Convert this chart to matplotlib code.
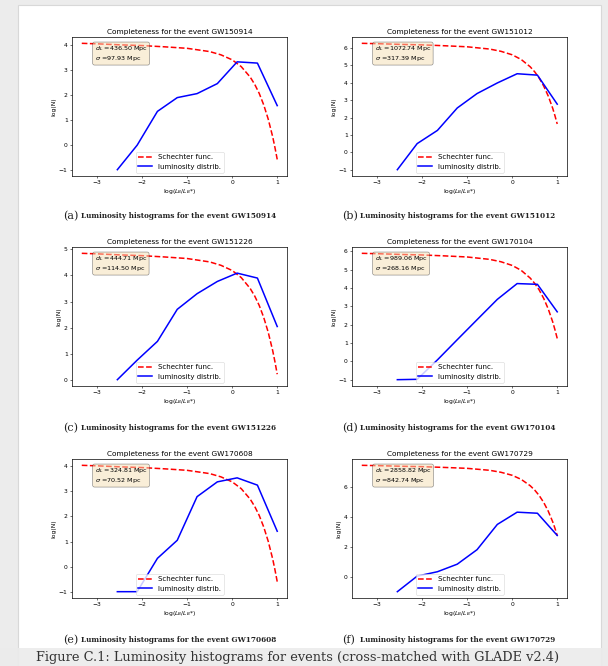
import numpy as np
import matplotlib
matplotlib.use("Agg")
import matplotlib.pyplot as plt

# events and the d_L / sigma shown in each text box
events = ["GW150914", "GW151012", "GW151226", "GW170104", "GW170608", "GW170729"]
letters = ["a", "b", "c", "d", "e", "f"]
dist_L = [436.50, 1072.74, 444.71, 989.06, 324.81, 2858.82]
sigma = [97.93, 317.39, 114.50, 268.16, 70.52, 842.74]

# Schechter function (red dashed)
sch_x = [-3.34, -3.0, -2.5, -2.0, -1.5, -1.0, -0.5, -0.25, 0.0, 0.2, 0.4,
         0.5, 0.6, 0.7, 0.8, 0.9, 0.95, 1.0]
sch_a = [4.05, 4.03, 3.99, 3.96, 3.91, 3.85, 3.72, 3.59, 3.39, 3.12, 2.70,
         2.41, 2.05, 1.59, 1.02, 0.31, -0.12, -0.59]
sch_b = [6.27, 6.25, 6.21, 6.18, 6.13, 6.07, 5.94, 5.81, 5.61, 5.34, 4.92,
         4.63, 4.27, 3.81, 3.24, 2.53, 2.10, 1.63]
sch_c = [4.85, 4.83, 4.79, 4.76, 4.71, 4.65, 4.52, 4.39, 4.19, 3.92, 3.50,
         3.21, 2.85, 2.39, 1.82, 1.11, 0.68, 0.21]
sch_d = [5.89, 5.87, 5.83, 5.80, 5.75, 5.69, 5.56, 5.43, 5.23, 4.96, 4.54,
         4.25, 3.89, 3.43, 2.86, 2.15, 1.72, 1.25]
sch_e = [4.04, 4.02, 3.98, 3.95, 3.90, 3.84, 3.71, 3.58, 3.38, 3.11, 2.69,
         2.40, 2.04, 1.58, 1.01, 0.30, -0.13, -0.60]
sch_f = [7.42, 7.40, 7.36, 7.33, 7.28, 7.22, 7.09, 6.96, 6.76, 6.49, 6.07,
         5.78, 5.42, 4.96, 4.39, 3.68, 3.25, 2.78]

# luminosity distribution (blue)
lum_x = [-2.55, -2.11, -1.66, -1.22, -0.78, -0.33, 0.11, 0.56, 1.00]
lum_a = [-1.0, -0.02, 1.33, 1.88, 2.04, 2.44, 3.31, 3.26, 1.56]
lum_b = [-1.0, 0.50, 1.26, 2.55, 3.38, 3.99, 4.52, 4.44, 2.77]
lum_c = [0.0, 0.75, 1.47, 2.70, 3.30, 3.77, 4.09, 3.90, 2.04]
lum_d = [-1.0, -0.98, 0.08, 1.18, 2.27, 3.38, 4.24, 4.20, 2.70]
lum_e = [-1.0, -1.0, 0.33, 1.05, 2.79, 3.38, 3.54, 3.25, 1.41]
lum_f = [-0.94, 0.09, 0.38, 0.88, 1.84, 3.51, 4.32, 4.25, 2.78]

sch_all = [sch_a, sch_b, sch_c, sch_d, sch_e, sch_f]
lum_all = [lum_a, lum_b, lum_c, lum_d, lum_e, lum_f]

W, H = 608, 666
fig = plt.figure(figsize=(W / 100, H / 100), dpi=100)
fig.patch.set_facecolor("#ececec")

# page background in pixel coords
bg = fig.add_axes([0, 0, 1, 1], zorder=-5)
bg.set_xlim(0, W)
bg.set_ylim(H, 0)
bg.axis("off")
bg.add_patch(plt.Rectangle((18, 5), 583, 670, facecolor="white",
                           edgecolor="#d8d8d8", lw=0.8))
bg.add_patch(plt.Rectangle((0, 648), W, 30, facecolor="#ebebeb",
                           edgecolor="none", alpha=0.9))
bg.text(36, 651, "Figure C.1: Luminosity histograms for events (cross-matched with GLADE v2.4)",
        family="DejaVu Serif", fontsize=9.3, va="top", ha="left", color="#333333")

col_left = [72, 352]
row_top = [37, 247, 459]
cap_y = [216, 428, 640]
ax_w, ax_h = 215, 139

for i in range(6):
    r, c = divmod(i, 2)
    x0 = col_left[c]
    y0 = row_top[r] + ax_h
    ax = fig.add_axes([x0 / W, (H - y0) / H, ax_w / W, ax_h / H])
    ax.plot(sch_x, sch_all[i], "r--", lw=1.1, label="Schechter func.")
    ax.plot(lum_x, lum_all[i], "b-", lw=1.1, label="luminosity distrib.")
    ax.set_title("Completeness for the event " + events[i], fontsize=5.3, pad=2.5)
    ax.set_xlabel(r"log($L_B/L_B$*)", fontsize=4.3, labelpad=1.5)
    ax.set_ylabel("log(N)", fontsize=4.3, labelpad=1.5)
    ax.tick_params(labelsize=4.3, length=1.6, width=0.4, pad=1.5)
    for s in ax.spines.values():
        s.set_linewidth(0.5)
    ax.text(0.105, 0.95, r"$d_L$ =%.2f Mpc" % dist_L[i] + "\n" + r"$\sigma$ =%.2f Mpc" % sigma[i],
            transform=ax.transAxes, fontsize=4.6, va="top",
            bbox=dict(boxstyle="round", facecolor="wheat", alpha=0.5, lw=0.4))
    leg = ax.legend(loc="lower center", fontsize=5)
    leg.get_frame().set_linewidth(0.4)

    cx = [63, 342][c]
    bg.text(cx, cap_y[r], "(%s)" % letters[i], family="DejaVu Serif", fontsize=8,
            va="center", ha="left", color="#222222")
    bg.text(cx + 18, cap_y[r] + 0.5, "Luminosity histograms for the event " + events[i],
            family="DejaVu Serif", fontsize=5.2, va="center", ha="left",
            color="#222222", weight="bold")

fig.savefig("out.png", dpi=100)
